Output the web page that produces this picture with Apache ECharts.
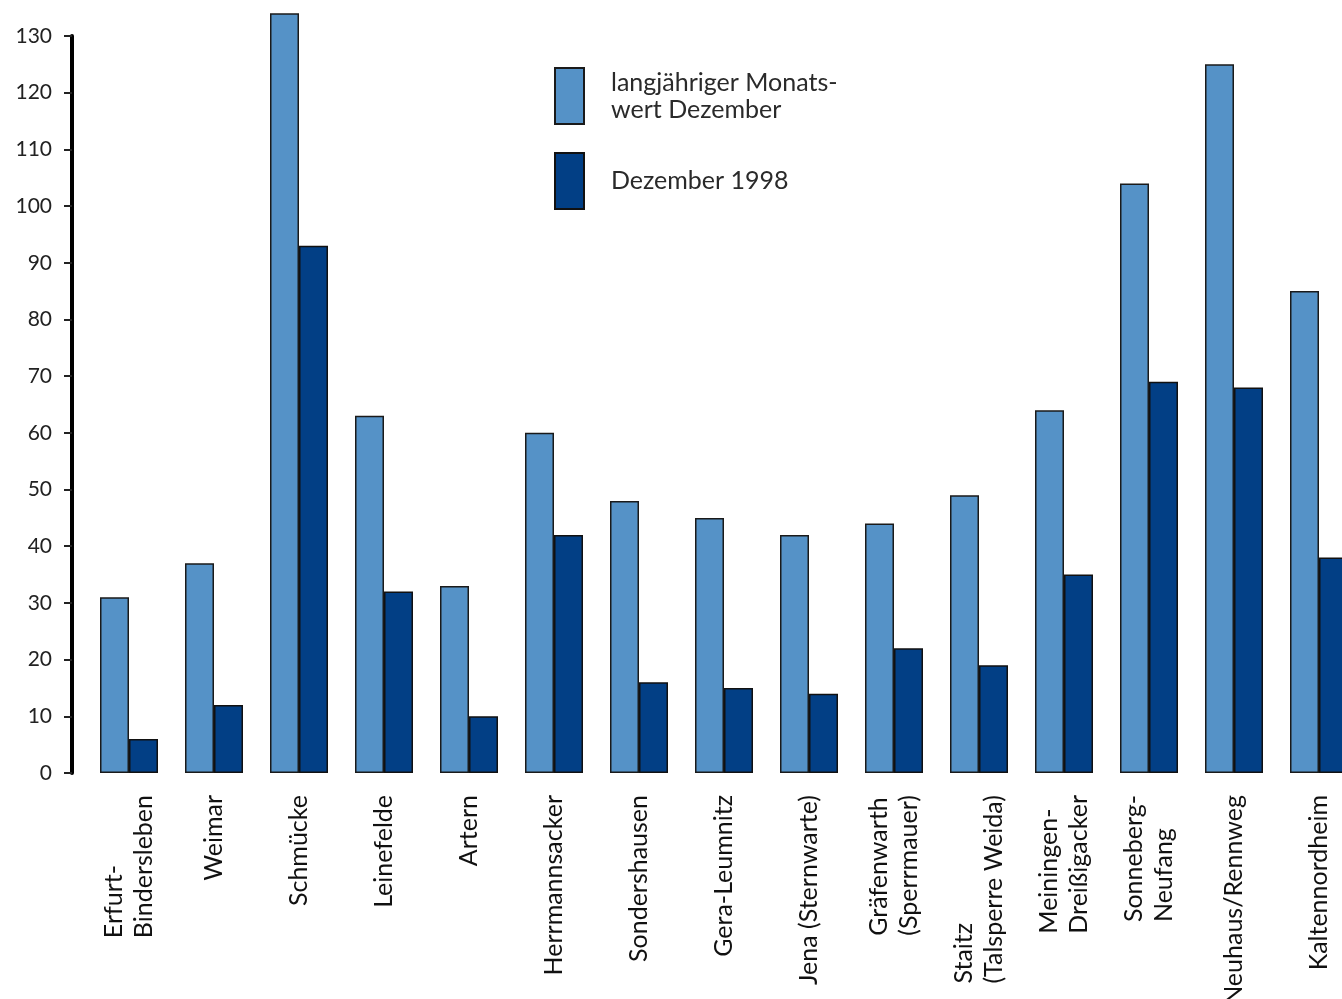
<!DOCTYPE html>
<html>
<head>
<meta charset="utf-8">
<script src="https://cdn.jsdelivr.net/npm/echarts@6/dist/echarts.min.js"></script>
<style>
html, body { margin: 0; padding: 0; background: #fff; }
#chart { width: 1342px; height: 999px; }
</style>
</head>
<body>
<div id="chart"></div>
<script>
var stations = ['Erfurt-\nBindersleben', 'Weimar', 'Schmücke', 'Leinefelde', 'Artern',
    'Herrmannsacker', 'Sondershausen', 'Gera-Leumnitz', 'Jena (Sternwarte)',
    'Gräfenwarth\n(Sperrmauer)', 'Staitz\n(Talsperre Weida)', 'Meiningen-\nDreißigacker',
    'Sonneberg-\nNeufang', 'Neuhaus/Rennweg', 'Kaltennordheim'];
var mittelDez = [31, 37, 134, 63, 33, 60, 48, 45, 42, 44, 49, 64, 104, 125, 85];
var dez1998 = [6, 12, 93, 32, 10, 42, 16, 15, 14, 22, 19, 35, 69, 68, 38];
var yTicks = [0, 130, 10];

var dom = document.getElementById('chart');
var myChart = echarts.init(dom);
var font = 'Lato, "DejaVu Sans", sans-serif';

var option = {
    animation: false,
    legend: {
        orient: 'vertical',
        left: 554,
        top: 67,
        padding: 0,
        itemWidth: 29,
        itemHeight: 56,
        itemGap: 27,
        icon: 'rect',
        textStyle: {
            fontFamily: font,
            fontSize: 25,
            lineHeight: 27,
            color: '#2a2a2a',
            padding: [0, 0, 0, 22]
        },
        data: ['langjähriger Monats-\nwert Dezember', 'Dezember 1998']
    },
    grid: { left: 86.5, top: 36, bottom: 226, width: 1275, outerBoundsMode: 'none', containLabel: false },
    xAxis: {
        type: 'category',
        data: stations,
        axisLine: { show: false },
        axisTick: { show: false },
        axisLabel: {
            rotate: 90,
            interval: 0,
            margin: 22,
            fontFamily: font,
            fontSize: 25,
            lineHeight: 30,
            color: '#111',
            // lines of a two-line name start at the same point, as in the print
            formatter: function (v) {
                return v.split('\n').map(function (s) { return '{l|' + s + '}'; }).join('\n');
            },
            rich: {
                l: { align: 'left', fontFamily: font, fontSize: 25, lineHeight: 30, color: '#111' }
            }
        }
    },
    yAxis: {
        type: 'value',
        min: yTicks[0],
        max: yTicks[1],
        interval: yTicks[2],
        offset: 14.5,
        splitLine: { show: false },
        axisLine: { show: true, lineStyle: { color: '#000', width: 4 } },
        axisTick: { show: true, length: 8, lineStyle: { color: '#222', width: 2 } },
        axisLabel: {
            margin: 20,
            fontFamily: font,
            fontSize: 21,
            color: '#222'
        }
    },
    series: [
        {
            name: 'langjähriger Monats-\nwert Dezember',
            type: 'bar',
            data: mittelDez,
            barWidth: 29,
            barGap: '0%',
            clip: false,
            itemStyle: { color: '#5592c7', borderColor: '#1a1a1a', borderWidth: 1.5 }
        },
        {
            name: 'Dezember 1998',
            type: 'bar',
            data: dez1998,
            barWidth: 29,
            clip: false,
            itemStyle: { color: '#023f85', borderColor: '#111', borderWidth: 1.5 }
        }
    ]
};
myChart.setOption(option, true);
</script>
</body>
</html>
